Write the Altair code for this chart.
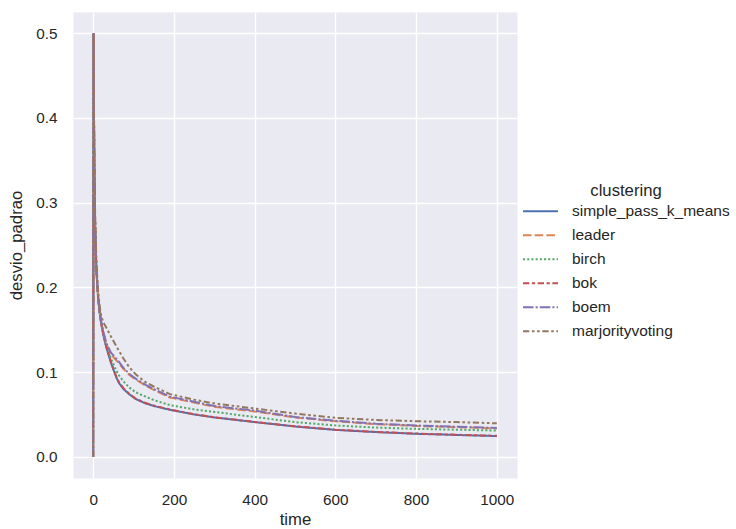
import altair as alt
import pandas as pd

# Sample times (shared by every clustering method)
times = [0, 1, 2, 3, 5, 8, 12, 16, 20, 25, 32, 44, 57, 64, 75, 89, 106,
         130, 150, 190, 250, 300, 400, 500, 600, 700, 800, 900, 1000]

methods = ["simple_pass_k_means", "leader", "birch", "bok", "boem", "marjorityvoting"]

simple_pass_k_means = [0.0, 0.5, 0.40, 0.34, 0.27, 0.22, 0.19, 0.17, 0.157, 0.144, 0.130,
                       0.111, 0.094, 0.087, 0.080, 0.074, 0.068, 0.063, 0.060, 0.0555,
                       0.050, 0.0465, 0.041, 0.0358, 0.0318, 0.0292, 0.0272, 0.0258, 0.0245]
leader = [0.0, 0.5, 0.40, 0.34, 0.27, 0.22, 0.19, 0.171, 0.159, 0.147, 0.134,
          0.121, 0.114, 0.110, 0.104, 0.097, 0.091, 0.084, 0.079, 0.070,
          0.064, 0.059, 0.0535, 0.0465, 0.042, 0.0385, 0.0365, 0.035, 0.0335]
birch = [0.0, 0.5, 0.40, 0.34, 0.27, 0.22, 0.19, 0.17, 0.158, 0.146, 0.133,
         0.116, 0.102, 0.096, 0.089, 0.082, 0.076, 0.071, 0.067, 0.061,
         0.056, 0.053, 0.047, 0.041, 0.037, 0.0345, 0.033, 0.032, 0.031]
bok = [0.0, 0.5, 0.40, 0.34, 0.27, 0.22, 0.19, 0.17, 0.157, 0.145, 0.131,
       0.112, 0.095, 0.088, 0.081, 0.0745, 0.0685, 0.0635, 0.0605, 0.0558,
       0.0502, 0.0467, 0.0412, 0.036, 0.032, 0.0294, 0.0274, 0.026, 0.0248]
boem = [0.0, 0.5, 0.40, 0.34, 0.27, 0.22, 0.19, 0.171, 0.160, 0.148, 0.135,
        0.123, 0.116, 0.112, 0.105, 0.098, 0.092, 0.085, 0.080, 0.071,
        0.065, 0.060, 0.0545, 0.047, 0.0425, 0.039, 0.037, 0.0355, 0.034]
marjorityvoting = [0.0, 0.5, 0.41, 0.35, 0.28, 0.23, 0.197, 0.178, 0.166, 0.159, 0.153,
                   0.142, 0.131, 0.125, 0.116, 0.106, 0.097, 0.088, 0.083, 0.074,
                   0.0675, 0.063, 0.057, 0.051, 0.046, 0.0435, 0.042, 0.041, 0.0395]

series = {
    "simple_pass_k_means": simple_pass_k_means,
    "leader": leader,
    "birch": birch,
    "bok": bok,
    "boem": boem,
    "marjorityvoting": marjorityvoting,
}

palette = ["#4C72B0", "#DD8452", "#55A868", "#C44E52", "#8172B3", "#937860"]
dashes = [[1, 0], [8.5, 3.2], [2.1, 2.1], [6.3, 2.6, 3.2, 2.6],
          [10.5, 2.1, 2.1, 2.1], [6.3, 2.6, 2.6, 2.6, 2.6, 2.6]]

rows = []
for order, name in enumerate(methods):
    for t, v in zip(times, series[name]):
        rows.append({"time": t, "desvio_padrao": v, "clustering": name, "ord": order})
df = pd.DataFrame(rows)

FONT = "Liberation Sans"
TXT = "#262626"

legend = alt.Legend(
    title="clustering",
    orient="none",
    legendX=449,
    legendY=171,
    symbolType="stroke",
    symbolSize=1225,
    symbolStrokeWidth=2,
    labelOffset=13,
    labelFontSize=15.5,
    labelFont=FONT,
    labelColor=TXT,
    titleFont=FONT,
    titleFontSize=16.7,
    titleFontWeight="normal",
    titleColor=TXT,
    titleAnchor="middle",
    titlePadding=0,
    rowPadding=0,
    clipHeight=23.3,
    padding=0,
)

chart = alt.Chart(df).mark_line(strokeWidth=2, clip=True).encode(
    x=alt.X("time:Q",
            scale=alt.Scale(domain=[-50, 1050], nice=False, zero=False),
            axis=alt.Axis(values=[0, 200, 400, 600, 800, 1000], format="d", title="time",
                          labelPadding=14, titlePadding=4)),
    y=alt.Y("desvio_padrao:Q",
            scale=alt.Scale(domain=[-0.025, 0.525], nice=False, zero=False),
            axis=alt.Axis(values=[0.0, 0.1, 0.2, 0.3, 0.4, 0.5], format=".1f",
                          title="desvio_padrao", labelPadding=16, titlePadding=10)),
    color=alt.Color("clustering:N", scale=alt.Scale(domain=methods, range=palette),
                    legend=legend),
    strokeDash=alt.StrokeDash("clustering:N", scale=alt.Scale(domain=methods, range=dashes),
                              legend=legend),
    order=alt.Order("ord:Q"),
).properties(
    width=444,
    height=466,
    autosize=alt.AutoSizeParams(type="none"),
    padding={"left": 73, "top": 12, "right": 219, "bottom": 51},
    background="white",
).configure_view(
    fill="#EAEAF2",
    stroke="transparent",
).configure_axis(
    domain=False,
    ticks=False,
    grid=True,
    gridColor="white",
    gridWidth=1.4,
    labelFont=FONT,
    labelFontSize=15.3,
    labelColor=TXT,
    titleFont=FONT,
    titleFontSize=16.7,
    titleFontWeight="normal",
    titleColor=TXT,
)

chart.save("out.html", embed_options={"renderer": "svg", "actions": False})
